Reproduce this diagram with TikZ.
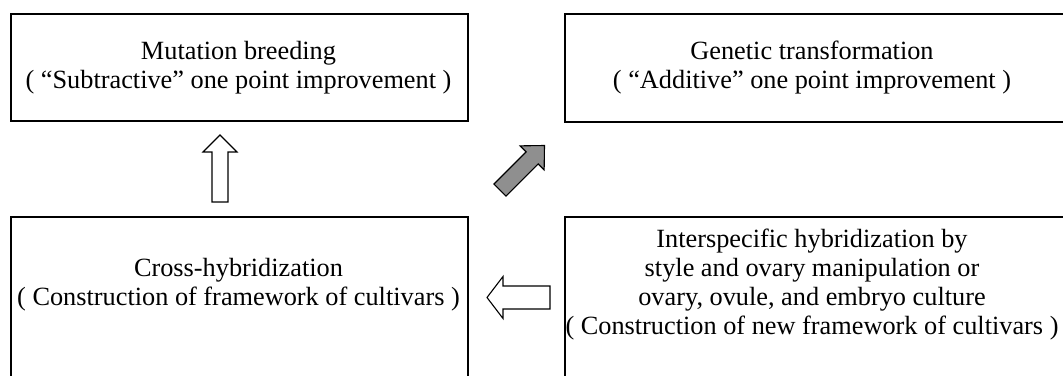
\documentclass[tikz,border=0pt]{standalone}
\usepackage{fontspec}
\setmainfont{Liberation Serif}
\definecolor{arrowgray}{gray}{0.56}
\begin{document}
\begin{tikzpicture}[x=1pt,y=-1pt,
  box/.style={draw=black, line width=1.5pt, inner sep=0pt, anchor=north west},
  txt/.style={align=center, font=\fontsize{26.3}{29}\selectfont, inner sep=0pt},
  blockarrow/.style={draw=black, line width=1.1pt, line join=miter, fill=white},
  grayarrow/.style={blockarrow, fill=arrowgray},
]
\useasboundingbox (0,0) rectangle (1063,375);
% boxes
\node[box, minimum width=457pt, minimum height=107pt] (mutbox) at (10,13) {};
\node[box, minimum width=510pt, minimum height=108pt] (genbox) at (564,13) {};
\node[box, minimum width=457pt, minimum height=175pt] (crossbox) at (10,216) {};
\node[box, minimum width=510pt, minimum height=175pt] (interbox) at (564,216) {};
% texts
\node[txt] (mut) at (238.5,67.5) {Mutation breeding\\( “Subtractive” one point improvement )};
\node[txt] (gen) at (812,67.5) {Genetic transformation\\( “Additive” one point improvement )};
\node[txt] (cross) at (238.5,284.5) {Cross-hybridization\\( Construction of framework of cultivars )};
\node[txt] (inter) at (812,284.5) {Interspecific hybridization by\\style and ovary manipulation or\\ovary, ovule, and embryo culture\\( Construction of new framework of cultivars )};
% block arrows
\coordinate (uptip) at (220,135);
\coordinate (lefttip) at (487,297.5);
\coordinate (diagtip) at (544.5,145.5);
\draw[blockarrow] (212,202) -- (212,152) -- (203,152) -- (uptip) -- (237,152) -- (228,152) -- (228,202) -- cycle;
\draw[blockarrow] (550,286) -- (503,286) -- (503,276.5) -- (lefttip) -- (503,318.5) -- (503,309) -- (550,309) -- cycle;
\draw[grayarrow] (493.94,184.04) -- (526.12,151.86) -- (520.11,145.85) -- (diagtip) -- (544.15,169.89) -- (538.14,163.88) -- (505.96,196.06) -- cycle;
\end{tikzpicture}
\end{document}
